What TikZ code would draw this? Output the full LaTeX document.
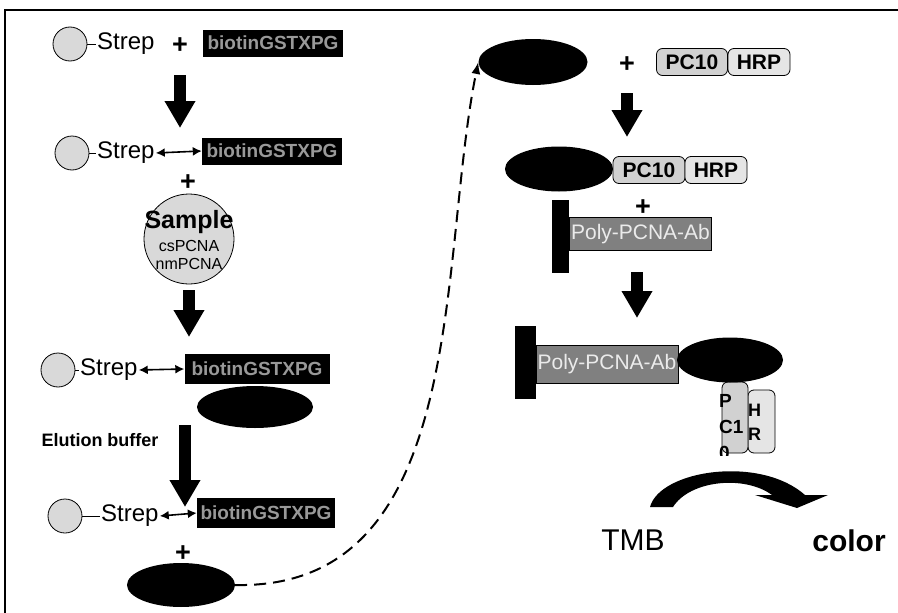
\documentclass[tikz,border=0pt]{standalone}
\usepackage{fontspec}
\setmainfont{Liberation Sans}
\usetikzlibrary{
arrows.meta,
positioning,
shapes.geometric
}

\begin{document}
\begin{tikzpicture}[
x=1pt,y=-1pt,
bead/.style={
circle,
draw,
fill=black!15,
line width=0.8pt,
minimum size=34pt,
inner sep=0pt
},
strep/.style={font=\fontsize{24}{26}\selectfont,inner sep=1pt},
biobox/.style={
rectangle,
fill=black,
text=black!40,
minimum width=140pt,
minimum height=27pt,
inner sep=0pt,
font=\bfseries\fontsize{19}{21}\selectfont
},
blob/.style={ellipse,fill=black,inner sep=0pt},
polybox/.style={
rectangle,
draw,
fill=black!50,
text=black!8,
minimum width=142pt,
minimum height=33pt,
inner sep=0pt,
font=\fontsize{21}{23}\selectfont
},
bar/.style={rectangle,fill=black,inner sep=0pt},
tag/.style={
rectangle,
rounded corners=6pt,
draw,
fill=black!18,
line width=0.8pt,
minimum height=27pt,
inner sep=0pt,
font=\bfseries\fontsize{21}{23}\selectfont
},
plus/.style={font=\bfseries\fontsize{27}{29}\selectfont,inner sep=0pt},
bigarrow/.style={line width=12pt,-{Triangle[width=29pt,length=27pt]}},
link/.style={line width=1.6pt,{Latex[length=9pt,width=9pt]}-{Latex[length=9pt,width=9pt]}},
tether/.style={line width=1pt}
]

\useasboundingbox (0,0) rectangle (898,613);
\draw[line width=2pt] (5,613) |- (898,10);

% capture column
\node[bead] (bead1) at (70,44) {};
\node[strep, anchor=west] (strep1) at (96,44) {Strep};
\node[plus] (plus1) at (180,46) {+};
\node[biobox] (bio1) at (273,43) {biotinGSTXPG};
\draw[tether] (bead1) -- (strep1);

\coordinate (go1) at (180,75);
\coordinate (end1) at (180,128);
\draw[bigarrow] (go1) -- (end1);

\node[bead] (bead2) at (72,153) {};
\node[strep, anchor=west] (strep2) at (96,153) {Strep};
\node[biobox] (bio2) at (272,151) {biotinGSTXPG};
\draw[tether] (bead2) -- (strep2);
\draw[link] (strep2.east) -- (bio2.west);
\node[plus] (plus2) at (188,183) {+};

\node[bead, minimum size=90pt] (sample) at (189,239) {};
\node[font=\bfseries\fontsize{25}{27}\selectfont, inner sep=0pt] (samplelbl) at (189,222) {Sample};
\node[font=\fontsize{16}{18}\selectfont, inner sep=0pt] (cslbl) at (189,246) {csPCNA};
\node[font=\fontsize{16}{18}\selectfont, inner sep=0pt] (nmlbl) at (189,264) {nmPCNA};

\coordinate (go2) at (189,290);
\coordinate (end2) at (189,337);
\draw[bigarrow] (go2) -- (end2);

\node[bead] (bead3) at (58,370) {};
\node[strep, anchor=west] (strep3) at (79,370) {Strep};
\node[biobox, minimum width=145pt, minimum height=30pt] (bio3) at (257,369) {biotinGSTXPG};
\draw[tether] (bead3) -- (strep3);
\draw[link] (strep3.east) -- (bio3.west);
\node[blob, minimum width=116pt, minimum height=42pt] (blob3) at (255,407) {};

\node[font=\bfseries\fontsize{18}{20}\selectfont] (elution) at (100,440) {Elution buffer};
\coordinate (go3) at (185,425);
\coordinate (end3) at (185,507);
\draw[bigarrow] (go3) -- (end3);

\node[bead] (bead4) at (65,516) {};
\node[strep, anchor=west] (strep4) at (100,516) {Strep};
\node[biobox, minimum width=138pt, minimum height=30pt] (bio4) at (266,513) {biotinGSTXPG};
\draw[tether] (bead4) -- (strep4);
\draw[link] (strep4.east) -- (bio4.west);
\node[plus] (plus4) at (183,554) {+};
\node[blob, minimum width=108pt, minimum height=44pt] (blob4) at (181,585) {};

% detection column
\node[blob, minimum width=109pt, minimum height=46pt] (blobA) at (533,62) {};
\node[plus] (plusA) at (627,65) {+};
\node[tag, minimum width=71pt] (pcA) at (692,62) {PC10};
\node[tag, minimum width=62pt, fill=black!10] (hrpA) at (759,62) {HRP};

\draw[line width=2pt, dash pattern=on 12pt off 7pt, -{Latex[length=12pt,width=9pt]}]
(blob4.east) .. controls (470,590) and (438,260) .. (blobA.west);

\coordinate (go4) at (627,93);
\coordinate (end4) at (627,137);
\draw[bigarrow] (go4) -- (end4);

\node[blob, minimum width=108pt, minimum height=45pt] (blobB) at (559,169) {};
\node[tag, minimum width=72pt] (pcB) at (649,170) {PC10};
\node[tag, minimum width=62pt, fill=black!10] (hrpB) at (716,170) {HRP};
\node[plus] (plusB) at (643,208) {+};

\node[bar, minimum width=17pt, minimum height=73pt] (barB) at (560.5,236.5) {};
\node[polybox] (polyB) at (640.5,234) {Poly-PCNA-Ab};

\coordinate (go5) at (637,272);
\coordinate (end5) at (637,318);
\draw[bigarrow] (go5) -- (end5);

\node[bar, minimum width=21pt, minimum height=73pt] (barC) at (525.5,362.5) {};
\node[polybox, minimum height=38pt] (polyC) at (607,364) {Poly-PCNA-Ab};
\node[tag, minimum width=27pt, minimum height=63pt, fill=black!10] (hrpC) at (761.5,421.5) {};
\node[tag, minimum width=26pt, minimum height=71pt] (pcC) at (735,417.5) {};
\node[blob, minimum width=106pt, minimum height=45pt] (blobC) at (730,360) {};
\begin{scope}
\clip (700,385) rectangle (790,455);
\node[font=\bfseries\fontsize{19}{26}\selectfont, align=left, anchor=north west, inner sep=0pt] (pclbl) at (719,394) {P\\C1\\0};
\end{scope}
\node[font=\bfseries\fontsize{18}{24}\selectfont, align=left, anchor=north west, inner sep=0pt] (hrplbl) at (748,404) {H\\R};

% substrate turnover
\fill (650,507) .. controls (660,470) and (760,455) .. (805,495) -- (828,495) -- (797,508)
-- (755,495) -- (772,495) .. controls (745,475) and (690,480) .. (673,507) -- cycle;
\node[font=\fontsize{30}{32}\selectfont] (tmb) at (633,540) {TMB};
\node[font=\bfseries\fontsize{30}{32}\selectfont] (color) at (849,541) {color};

\end{tikzpicture}
\end{document}
